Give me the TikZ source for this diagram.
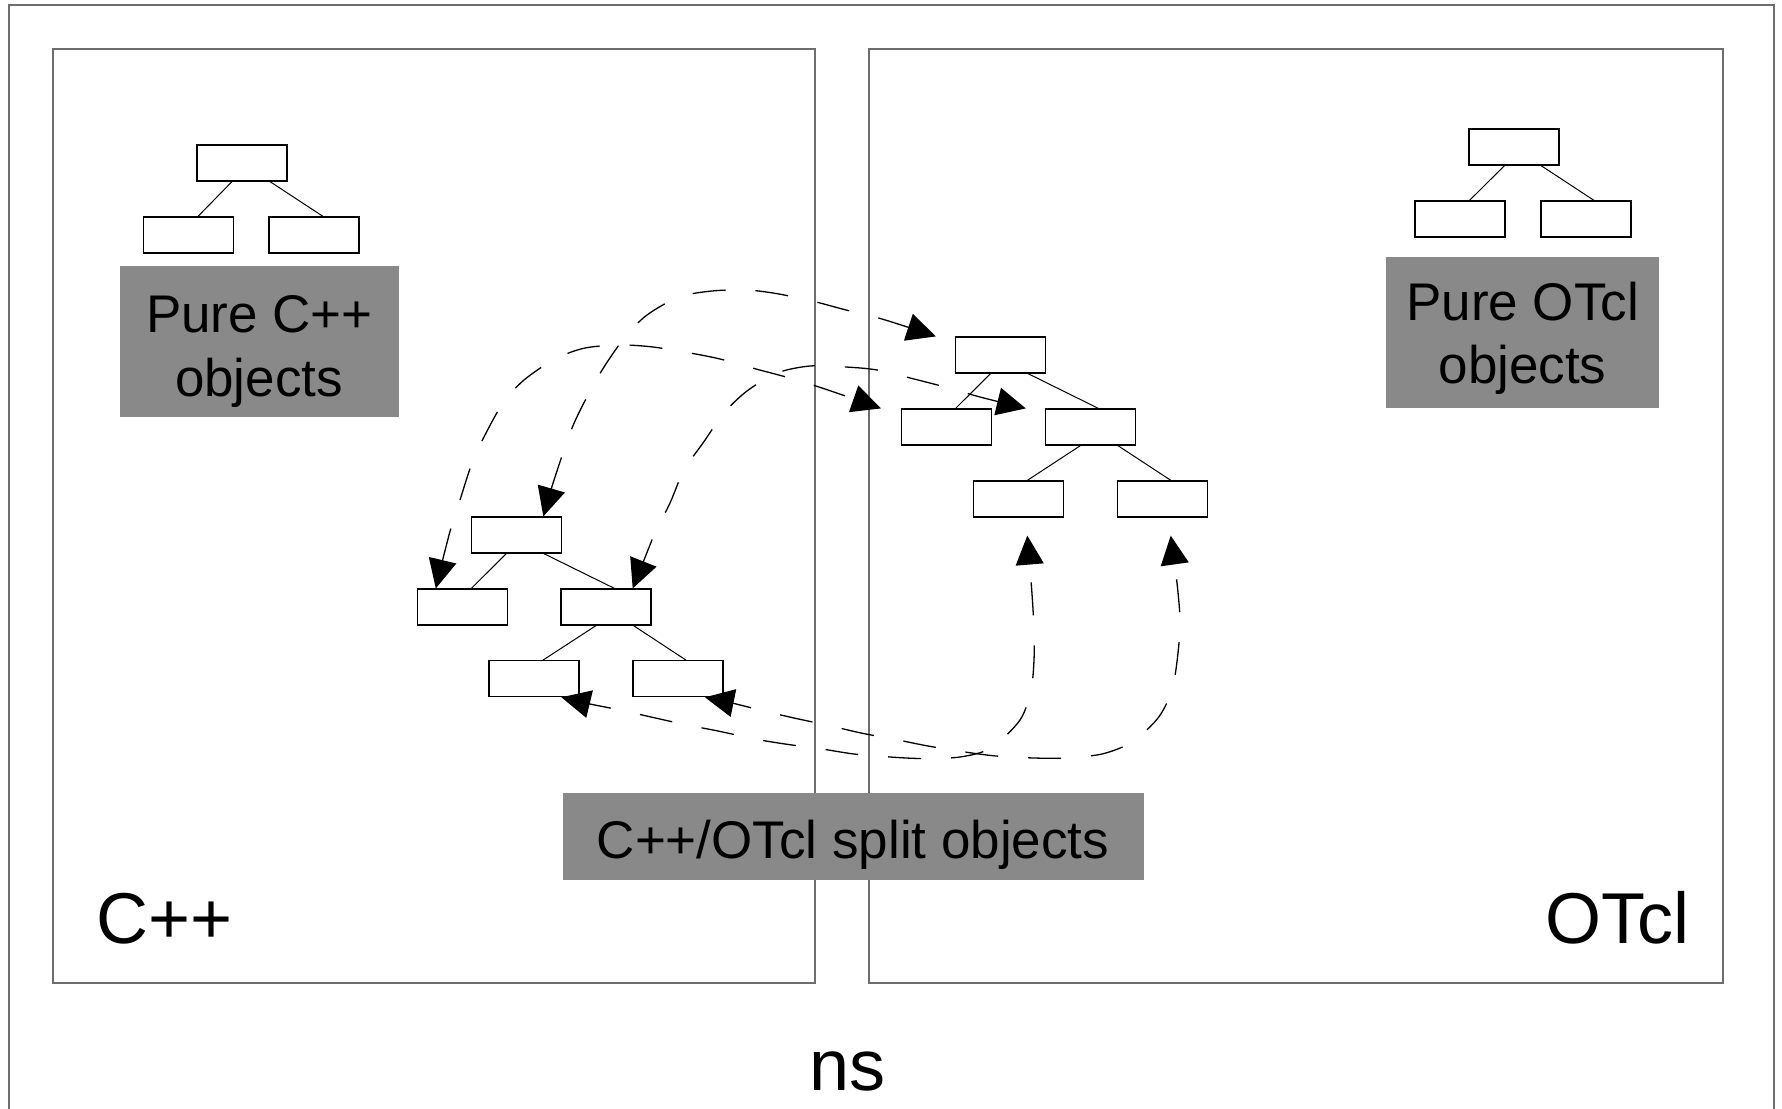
\documentclass[tikz,border=0pt]{standalone}
\usepackage{fontspec}
\setmainfont{Liberation Sans}
\usetikzlibrary{arrows.meta,calc}
\definecolor{objgray}{RGB}{137,137,137}
\definecolor{framegray}{RGB}{110,110,110}
\begin{document}
\begin{tikzpicture}[x=1pt,y=-1pt,
  obj/.style={draw=black, line width=1.2pt, minimum width=90pt, minimum height=36pt, inner sep=0pt, fill=white},
  sidebox/.style={draw=framegray, line width=1.1pt, inner sep=0pt},
  graybox/.style={fill=objgray, inner sep=0pt},
  link/.style={line width=1pt},
  conn/.style={line width=1.3pt, dash pattern=on 33pt off 30pt,
    {Triangle[length=29pt,width=28pt]}-{Triangle[length=29pt,width=28pt]}},
  bigtxt/.style={font=\fontsize{53}{64}\selectfont, inner sep=0pt, anchor=base},
  hugetxt/.style={font=\fontsize{72}{80}\selectfont, inner sep=0pt},
]
\useasboundingbox (0,0) rectangle (1782,1108);
% outer frame
\draw[draw=framegray, line width=1.1pt] (9,1110) -- (9,5) -- (1774,5) -- (1774,1110);
% two sides
\node[sidebox, minimum width=762pt, minimum height=934pt] (cppside) at (434,516) {};
\node[sidebox, minimum width=854pt, minimum height=934pt] (otclside) at (1296,516) {};

% pure C++ tree
\node[obj] (pc) at (242,163) {};
\node[obj] (pcl) at (188.5,235) {};
\node[obj] (pcr) at (314,235) {};
\draw[link] ([xshift=-10pt]pc.south) -- ([xshift=9.5pt]pcl.north);
\draw[link] ([xshift=28pt]pc.south) -- ([xshift=9pt]pcr.north);
\node[graybox, minimum width=279pt, minimum height=151pt] (pcbox) at (259.5,341.5) {};
\node[bigtxt] (pct1) at (259.5,332) {Pure C++};
\node[bigtxt] (pct2) at (259,396) {objects};

% pure OTcl tree
\node[obj] (po) at (1514,147) {};
\node[obj] (pol) at (1460,219) {};
\node[obj] (por) at (1586,219) {};
\draw[link] ([xshift=-9.5pt]po.south) -- ([xshift=9.5pt]pol.north);
\draw[link] ([xshift=27pt]po.south) -- ([xshift=8pt]por.north);
\node[graybox, minimum width=273pt, minimum height=151pt] (pobox) at (1522.5,332.5) {};
\node[bigtxt] (pot1) at (1522.5,320) {Pure OTcl};
\node[bigtxt] (pot2) at (1522.5,383.5) {objects};

% split objects: C++ side
\node[obj] (Lt) at (516.3,535) {};
\node[obj] (Lml) at (462.3,607) {};
\node[obj] (Lmr) at (606,607) {};
\node[obj] (Lbl) at (534,678.7) {};
\node[obj] (Lbr) at (678,678.7) {};
\draw[link] ([xshift=-10pt]Lt.south) -- ([xshift=9pt]Lml.north);
\draw[link] ([xshift=27.5pt]Lt.south) -- ([xshift=8.5pt]Lmr.north);
\draw[link] ([xshift=-10pt]Lmr.south) -- ([xshift=9pt]Lbl.north);
\draw[link] ([xshift=27.5pt]Lmr.south) -- ([xshift=8pt]Lbr.north);

% split objects: OTcl side
\node[obj] (Rt) at (1000.5,355) {};
\node[obj] (Rml) at (946.6,427) {};
\node[obj] (Rmr) at (1090.4,427) {};
\node[obj] (Rbl) at (1018.3,499) {};
\node[obj] (Rbr) at (1162.4,499) {};
\draw[link] ([xshift=-10pt]Rt.south) -- ([xshift=9pt]Rml.north);
\draw[link] ([xshift=27.5pt]Rt.south) -- ([xshift=8pt]Rmr.north);
\draw[link] ([xshift=-10pt]Rmr.south) -- ([xshift=9pt]Rbl.north);
\draw[link] ([xshift=27.5pt]Rmr.south) -- ([xshift=8.5pt]Rbr.north);

% connector end points
\coordinate (a1) at ($(Lt.north)+(27,0)$);
\coordinate (a2) at ($(Rt.north west)+(-19,0)$);
\coordinate (b1) at ($(Lml.north)+(-26.5,0)$);
\coordinate (b2) at ($(Rml.north west)+(-20,0)$);
\coordinate (c1) at ($(Lmr.north)+(26.7,0)$);
\coordinate (c2) at ($(Rmr.north west)+(-19,0)$);
\coordinate (d1) at ($(Lbl.south)+(27.4,0)$);
\coordinate (d2) at ($(Rbl.south)+(9,18)$);
\coordinate (e1) at ($(Lbr.south)+(27,0)$);
\coordinate (e2) at ($(Rbr.south)+(8.3,18)$);

% dashed connectors
\draw[conn] plot[smooth] coordinates {(a1) (556,474) (572,428) (588,395) (604,367) (625,337) (647,315) (679,297) (712,291) (747,290) (779,294) (816,302) (846,310) (882,319) (a2)};
\draw[conn] plot[smooth] coordinates {(b1) (449,535) (460,500) (472,463) (485,435) (503,403) (524,380) (555,359) (585,348) (621,345) (653,347) (690,353) (720,359) (756,369) (786,377) (822,388) (b2)};
\draw[conn] plot[smooth] coordinates {(c1) (644,560) (655,533) (670,503) (684,470) (703,443) (724,413) (747,391) (777,373) (810,366) (846,367) (877,370) (914,379) (945,387) (980,397) (c2)};
\draw[conn] plot[smooth] coordinates {(d1) (590,704) (620,710) (651,717) (687,725) (718,731) (755,739) (785,744) (822,749) (854,754) (890,757) (922,758.5) (960,757) (991,748) (1020,720) (1031,690) (1034,660) (1034,630) (1032,594) (d2)};
\draw[conn] plot[smooth] coordinates {(e1) (732,703) (764,711) (794,718) (831,726) (861,733) (898,740) (928,746) (965,752) (996,756) (1034,758) (1065,758) (1102,754) (1132,742) (1158,718) (1172,690) (1178,653) (1180,620) (1177,583) (e2)};

% split objects label
\node[graybox, minimum width=581.5pt, minimum height=87pt] (spbox) at (853.25,836.5) {};
\node[bigtxt] (spt) at (853,858) {C++/OTcl split objects};

% side labels
\node[hugetxt, anchor=base west] (cpplab) at (96,943) {C++};
\node[hugetxt, anchor=base east] (otcllab) at (1690,943) {OTcl};
\node[hugetxt, anchor=base] (nslab) at (847.5,1090) {ns};
\end{tikzpicture}
\end{document}
